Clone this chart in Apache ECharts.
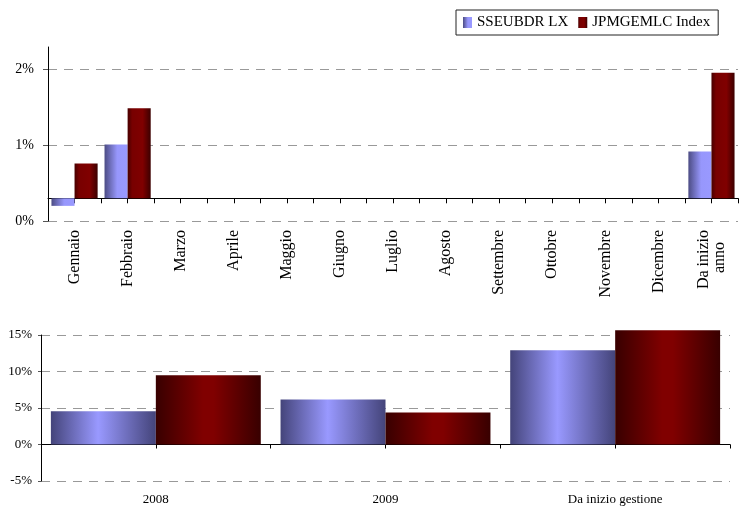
<!DOCTYPE html>
<html><head><meta charset="utf-8">
<script src="https://cdn.jsdelivr.net/npm/echarts@6/dist/echarts.min.js"></script>
<style>html,body{margin:0;padding:0;background:#fff}#c{width:739px;height:506px}</style>
</head><body><div id="c"></div>
<script>
// ---- data ----
const seriesNames = ['SSEUBDR LX', 'JPMGEMLC Index'];
const monthCategories = ['Gennaio','Febbraio','Marzo','Aprile','Maggio','Giugno','Luglio','Agosto','Settembre','Ottobre','Novembre','Dicembre','Da inizio\nanno\u00a0\u00a0\u00a0'];
const monthFund  = [-0.10, 0.71, null, null, null, null, null, null, null, null, null, null, 0.62];
const monthIndex = [ 0.46, 1.19, null, null, null, null, null, null, null, null, null, null, 1.66];
const yearCategories = ['2008', '2009', 'Da inizio gestione'];
const yearFund  = [4.56, 6.16, 12.9];
const yearIndex = [9.49, 4.38, 15.66];
// top axis: ticks at -0.3, 0.7, 1.7 shown rounded ("0%", "1%", "2%")
const topAxisMin = -0.3, topAxisMax = 2.0, topAxisStep = 1;
const topTickValues = [-0.3, 0.7, 1.7];
const bottomAxisMin = -5, bottomAxisMax = 15, bottomAxisStep = 5;

const FONT = "'Liberation Serif', 'Times New Roman', serif";
const G = echarts.graphic;
const grad = (stops) => new G.LinearGradient(0, 0, 1, 0, stops.map(s => ({offset: s[0], color: s[1]})));
const topBlue = grad([[0,'#4c4c84'],[0.55,'#9797fc'],[1,'#9999ff']]);
const topRed  = grad([[0,'#470000'],[0.2,'#780000'],[0.65,'#800000'],[1,'#3c0000']]);
const botBlue = grad([[0,'#44447a'],[0.45,'#9999ff'],[1,'#44447a']]);
const botRed  = grad([[0,'#380000'],[0.45,'#800000'],[0.55,'#800000'],[1,'#380000']]);

const blanks = n => Array.from({length: n}, () => '');
const dash = [9, 7];

const chart = echarts.init(document.getElementById('c'), null, {renderer: 'canvas'});
chart.setOption({
  animation: false,
  backgroundColor: '#fff',
  textStyle: {fontFamily: FONT, color: '#000'},
  legend: {
    data: seriesNames, left: 456, top: 10, itemWidth: 9, itemHeight: 11, itemGap: 10,
    padding: [5, 8, 5, 7], borderColor: '#222', borderWidth: 1, icon: 'rect',
    textStyle: {fontFamily: FONT, fontSize: 15, color: '#000'}
  },
  grid: [
    {left: 48, right: 1, top: 47, bottom: 285},
    {left: 41, right: 9, top: 335, bottom: 25}
  ],
  xAxis: [
    {gridIndex: 0, type: 'category', data: monthCategories, position: 'bottom',
     axisLine: {show: false, onZero: false}, axisTick: {show: false},
     axisLabel: {rotate: 90, interval: 0, fontSize: 16, margin: 9, fontFamily: FONT, color: '#000', lineHeight: 16}},
    {gridIndex: 0, type: 'category', data: blanks(26), position: 'bottom',
     axisLine: {show: true, onZero: true, lineStyle: {color: '#000', width: 1}},
     axisTick: {show: true, interval: 0, length: 5, lineStyle: {color: '#000'}},
     axisLabel: {show: false}},
    {gridIndex: 1, type: 'category', data: yearCategories, position: 'bottom',
     axisLine: {show: false, onZero: false}, axisTick: {show: false},
     axisLabel: {interval: 0, fontSize: 13, margin: 12, fontFamily: FONT, color: '#000'}},
    {gridIndex: 1, type: 'category', data: blanks(6), position: 'bottom',
     axisLine: {show: true, onZero: true, lineStyle: {color: '#000', width: 1}},
     axisTick: {show: true, interval: 0, length: 4, lineStyle: {color: '#000'}},
     axisLabel: {show: false}}
  ],
  yAxis: [
    {gridIndex: 0, type: 'value', min: topAxisMin, max: topAxisMax, interval: topAxisStep,
     axisLine: {show: true, lineStyle: {color: '#000'}},
     axisTick: {show: true, length: 5, customValues: topTickValues, lineStyle: {color: '#555'}},
     axisLabel: {fontSize: 14, margin: 14, fontFamily: FONT, color: '#000', showMaxLabel: false,
                 formatter: v => Math.abs(Math.round(v)) + '%'},
     splitLine: {show: true, lineStyle: {type: dash, color: ['#999', '#999', '#999', 'rgba(0,0,0,0)']}}},
    {gridIndex: 1, type: 'value', min: bottomAxisMin, max: bottomAxisMax, interval: bottomAxisStep,
     axisLine: {show: true, lineStyle: {color: '#000'}},
     axisTick: {show: true, length: 3, lineStyle: {color: '#555'}},
     axisLabel: {fontSize: 13, margin: 9, fontFamily: FONT, color: '#000', formatter: v => v + '%'},
     splitLine: {show: true, lineStyle: {type: dash, color: ['#999', 'rgba(0,0,0,0)', '#999', '#999', '#999']}}}
  ],
  series: [
    {name: seriesNames[0], type: 'bar', xAxisIndex: 0, yAxisIndex: 0, data: monthFund,
     barGap: '0%', barCategoryGap: '13%', itemStyle: {color: topBlue}},
    {name: seriesNames[1], type: 'bar', xAxisIndex: 0, yAxisIndex: 0, data: monthIndex,
     barGap: '0%', barCategoryGap: '13%', itemStyle: {color: topRed}},
    {name: seriesNames[0], type: 'bar', xAxisIndex: 2, yAxisIndex: 1, data: yearFund,
     barGap: '0%', barCategoryGap: '8.6%', clip: false, itemStyle: {color: botBlue}},
    {name: seriesNames[1], type: 'bar', xAxisIndex: 2, yAxisIndex: 1, data: yearIndex,
     barGap: '0%', barCategoryGap: '8.6%', clip: false, itemStyle: {color: botRed}}
  ]
});
</script>
</body></html>
